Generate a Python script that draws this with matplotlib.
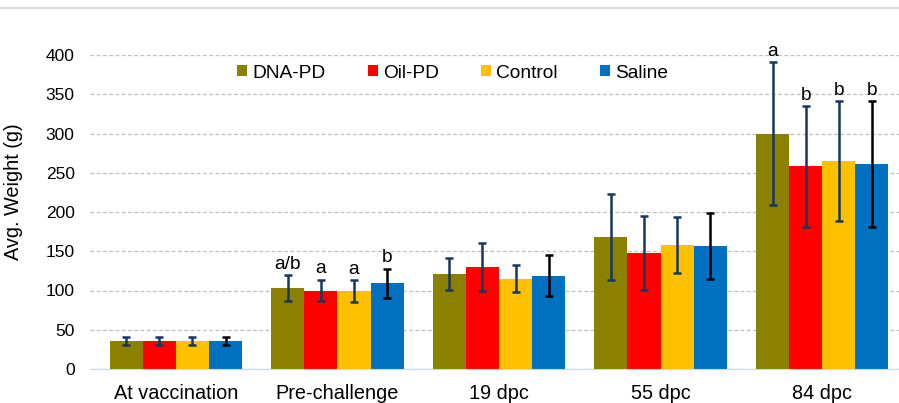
import numpy as np
import matplotlib
matplotlib.use("Agg")
import matplotlib.pyplot as plt
from matplotlib.lines import Line2D

plt.rcParams['font.family'] = ['Liberation Sans', 'DejaVu Sans']

timepoints = ['At vaccination', 'Pre-challenge', '19 dpc', '55 dpc', '84 dpc']
groups = ['DNA-PD', 'Oil-PD', 'Control', 'Saline']
colors = ['#8B8000', '#FF0000', '#FFC000', '#0070C0']
err_colors = ['#17375E', '#17375E', '#17375E', '#000000']

weight = {
    'DNA-PD':  [36, 103, 121, 168, 300],
    'Oil-PD':  [36, 100, 130, 148, 258],
    'Control': [36, 99, 115, 158, 265],
    'Saline':  [36, 109, 119, 157, 261],
}
sd = {
    'DNA-PD':  [5, 17, 20, 55, 91],
    'Oil-PD':  [5, 14, 30, 47, 77],
    'Control': [5, 14, 17, 36, 76],
    'Saline':  [5, 19, 26, 42, 80],
}
# significance letters: (timepoint index, group index, letter)
letters = [
    (1, 0, 'a/b'), (1, 1, 'a'), (1, 2, 'a'), (1, 3, 'b'),
    (4, 0, 'a'), (4, 1, 'b'), (4, 2, 'b'), (4, 3, 'b'),
]

W, H = 899, 403
fig = plt.figure(figsize=(W / 100, H / 100), dpi=100)
fig.add_artist(Line2D([0, 1], [1 - 8 / H, 1 - 8 / H], color='#D9D9D9', lw=1.5))
ax = fig.add_axes([90 / W, 34 / H, 813 / W, 314 / H])

x = np.arange(len(timepoints))
w = 0.205
for i, g in enumerate(groups):
    pos = x + (i - 1.5) * w
    ax.bar(pos, weight[g], w, color=colors[i], label=g, zorder=2)
    ax.errorbar(pos, weight[g], yerr=sd[g], fmt='none', ecolor=err_colors[i],
                elinewidth=1.8, capsize=3, capthick=1.8, zorder=3)

for ti, gi, txt in letters:
    g = groups[gi]
    ax.text(x[ti] + (gi - 1.5) * w, weight[g][ti] + sd[g][ti] + 8, txt,
            ha='center', va='baseline', fontsize=13.8)

ax.set_xlim(-0.531, 4.5)
ax.set_ylim(0, 400)
ax.set_yticks(range(0, 401, 50))
ax.set_xticks(x)
ax.set_xticklabels(timepoints, fontsize=14.3)
ax.tick_params(axis='y', labelsize=12.5, length=0, pad=11)
ax.tick_params(axis='x', length=0, pad=10.5)
ax.set_ylabel('Avg. Weight (g)', fontsize=14.3)
ax.yaxis.set_label_coords(-0.082, 0.565)
ax.yaxis.grid(True, linestyle=(0, (3, 2)), color='#BFBFBF', lw=0.9, zorder=0)
ax.set_axisbelow(True)
for s in ['top', 'right', 'left']:
    ax.spines[s].set_visible(False)
ax.spines['bottom'].set_color('#C5D9F1')

ax.legend(ncol=4, loc='center left', bbox_to_anchor=(237 / W, 1 - 73 / H),
          bbox_transform=fig.transFigure, frameon=False, borderaxespad=0,
          borderpad=0, fontsize=13.8, handlelength=0.52, handleheight=0.52,
          handletextpad=0.28, columnspacing=2.2)

fig.savefig('out.png', dpi=100)
